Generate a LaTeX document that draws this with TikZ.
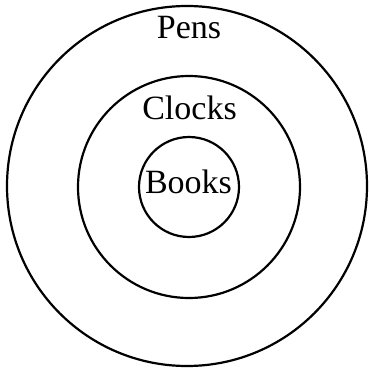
\documentclass[tikz,border=0pt]{standalone}
\usepackage{fontspec}
\setmainfont{Liberation Serif}
\usepackage{tikz}

\tikzset{
  ring/.style={draw, circle, line width=2.2pt, inner sep=0pt},
  setname/.style={anchor=base, inner sep=0pt, font=\fontsize{34}{36}\selectfont}
}

\begin{document}
\begin{tikzpicture}[x=1pt, y=-1pt]
    \useasboundingbox (0,0) rectangle (369,369);
    \node[ring, minimum size=360pt] (pens) at (187,186) {};
    \node[ring, minimum size=222pt] (clocks) at (189,187) {};
    \node[ring, minimum size=100pt] (books) at (189,187) {};
    \node[setname] (penslabel) at (189,39) {Pens};
    \node[setname] (clockslabel) at (189.5,119) {Clocks};
    \node[setname] (bookslabel) at (188.5,193) {Books};
  \end{tikzpicture}
\end{document}
